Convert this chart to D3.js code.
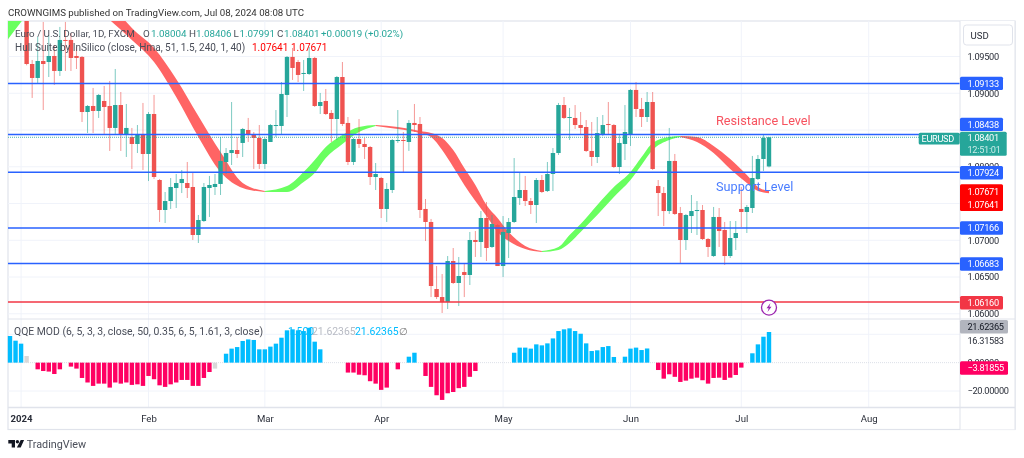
<!DOCTYPE html>
<html lang="en">
<head>
<meta charset="UTF-8">
<title>EURUSD 1D</title>
<script src="https://d3js.org/d3.v7.min.js"></script>
<style>
    html, body { margin: 0; padding: 0; background: #fff; overflow: hidden; }
    svg { display: block; font-family: Roboto, "Noto Sans", Arial, sans-serif; filter: blur(0.3px); }
    .axis path, .axis line { display: none; }
    .axis text { fill: #2a2e39; font-size: 9.6px; font-family: Roboto, "Noto Sans", Arial, sans-serif; }
    .price text, .tagtext { letter-spacing: -0.3px; font-size: 9.2px; }
</style>
</head>
<body>
<div id="chart"></div>
<script>
// candles start at bar 3, the first bars are above the visible range
const firstBar = 3;
const candleOpen = [
    1.10200,1.09398,1.09208,1.09439,1.09425,1.09507,1.09303,1.09725,1.09725,1.09507,
    1.09494,1.08745,1.08827,1.08759,1.08895,1.08827,1.08528,1.08840,1.08446,1.08405,
    1.08310,1.08446,1.08174,1.08718,1.07820,1.07412,1.07534,1.07711,1.07779,1.07779,
    1.07725,1.07072,1.07262,1.07711,1.07725,1.07766,1.08065,1.08187,1.08228,1.08324,
    1.08500,1.08446,1.08392,1.08038,1.08337,1.08555,1.08555,1.08977,1.09494,1.09425,
    1.09262,1.09262,1.09480,1.08827,1.08895,1.08732,1.08650,1.09221,1.08596,1.08065,
    1.08378,1.08310,1.08269,1.07861,1.07847,1.07426,1.07684,1.08351,1.08364,1.08337,
    1.08596,1.08582,1.07426,1.07249,1.06337,1.06228,1.06160,1.06718,1.06419,1.06568,
    1.06528,1.07004,1.06977,1.07303,1.06909,1.07208,1.06650,1.07099,1.07249,1.07575,
    1.07684,1.07534,1.07480,1.07820,1.07670,1.07902,1.08187,1.08840,1.08664,1.08664,
    1.08568,1.08541,1.08215,1.08133,1.08432,1.08582,1.08568,1.07997,1.08310,1.08446,
    1.09045,1.08786,1.08677,1.08881,1.07738,1.07643,1.07398,1.08079,1.07371,1.07004,
    1.07330,1.07398,1.07412,1.07017,1.06786,1.07317,1.07140,1.06786,1.07031,1.07426,
    1.07385,1.07439,1.07834,1.08106,1.08004
];
const candleHigh = [
    1.10350,1.09453,1.09766,1.09970,1.09793,1.09657,1.09902,1.09970,1.09820,1.09630,
    1.09507,1.08840,1.09072,1.08990,1.09099,1.09167,1.09330,1.09017,1.08854,1.08528,
    1.08568,1.08868,1.08745,1.08977,1.07834,1.07657,1.07847,1.07902,1.07956,1.08065,
    1.07915,1.07344,1.07779,1.07875,1.07902,1.08405,1.08255,1.08881,1.08405,1.08528,
    1.08664,1.08473,1.08568,1.08392,1.08582,1.08772,1.09153,1.09507,1.09616,1.09453,
    1.09453,1.09630,1.09494,1.09004,1.09058,1.08772,1.09235,1.09425,1.08677,1.08392,
    1.08650,1.08392,1.08283,1.08051,1.07861,1.07779,1.08378,1.08772,1.08473,1.08636,
    1.08854,1.08677,1.07562,1.07290,1.06650,1.06541,1.06786,1.06895,1.06773,1.06691,
    1.07113,1.07126,1.07398,1.07521,1.07344,1.07221,1.07330,1.07303,1.08119,1.07915,
    1.07875,1.07575,1.07847,1.07888,1.08065,1.08255,1.08868,1.08949,1.08800,1.08840,
    1.08745,1.08636,1.08609,1.08677,1.08704,1.08881,1.08582,1.08432,1.08840,1.09058,
    1.09153,1.08936,1.09017,1.09017,1.07820,1.07725,1.08528,1.08174,1.07453,1.07358,
    1.07616,1.07534,1.07480,1.07031,1.07453,1.07439,1.07249,1.07262,1.07262,1.07725,
    1.07480,1.08147,1.08160,1.08432,1.08406
];
const candleLow = [
    1.09380,1.08936,1.09140,1.08772,1.09221,1.09113,1.09235,1.09303,1.09303,1.09330,
    1.08609,1.08459,1.08459,1.08664,1.08446,1.08215,1.08432,1.08215,1.08133,1.07970,
    1.08187,1.07956,1.07806,1.07834,1.07249,1.07235,1.07426,1.07439,1.07643,1.07575,
    1.07004,1.06963,1.07249,1.07317,1.07616,1.07616,1.07902,1.08024,1.08119,1.08133,
    1.08337,1.07970,1.07970,1.07970,1.08337,1.08405,1.08432,1.08677,1.09181,1.09153,
    1.09031,1.09249,1.08813,1.08718,1.08704,1.08337,1.08364,1.08555,1.08024,1.08024,
    1.08255,1.08106,1.07752,1.07684,1.07303,1.07249,1.07643,1.08324,1.07915,1.08215,
    1.08473,1.07303,1.06990,1.06228,1.06201,1.06011,1.06065,1.06405,1.06106,1.06228,
    1.06392,1.06773,1.06773,1.06718,1.06895,1.06650,1.06500,1.06759,1.07235,1.07480,
    1.07466,1.07358,1.07235,1.07643,1.07657,1.07670,1.08160,1.08650,1.08364,1.08514,
    1.08432,1.08201,1.08011,1.08051,1.08419,1.08432,1.07983,1.07902,1.08092,1.08283,
    1.08677,1.08541,1.08609,1.07956,1.07330,1.07194,1.07358,1.07344,1.06691,1.06868,
    1.07099,1.07072,1.07004,1.06773,1.06773,1.06909,1.06664,1.06759,1.06868,1.07181,
    1.07099,1.07371,1.07820,1.07943,1.07991
];
const candleClose = [
    1.09398,1.09208,1.09439,1.09398,1.09507,1.09303,1.09725,1.09711,1.09480,1.09480,
    1.08745,1.08827,1.08759,1.08977,1.08813,1.08528,1.08840,1.08446,1.08528,1.08310,
    1.08446,1.08174,1.08718,1.07861,1.07412,1.07534,1.07725,1.07779,1.07834,1.07711,
    1.07072,1.07276,1.07725,1.07752,1.07766,1.08079,1.08187,1.08228,1.08174,1.08514,
    1.08432,1.08392,1.08038,1.08378,1.08568,1.08568,1.08990,1.09494,1.09344,1.09249,
    1.09276,1.09480,1.08827,1.08881,1.08718,1.08650,1.09221,1.08582,1.08065,1.08378,
    1.08310,1.08269,1.07861,1.07902,1.07426,1.07698,1.08364,1.08364,1.08351,1.08596,
    1.08568,1.07412,1.07249,1.06378,1.06228,1.06160,1.06718,1.06419,1.06514,1.06528,
    1.07004,1.06977,1.07303,1.06895,1.07221,1.06650,1.07113,1.07249,1.07589,1.07684,
    1.07534,1.07480,1.07820,1.07657,1.07902,1.08187,1.08840,1.08664,1.08677,1.08568,
    1.08528,1.08215,1.08133,1.08459,1.08568,1.08568,1.07997,1.08324,1.08473,1.09045,
    1.08786,1.08677,1.08881,1.07970,1.07643,1.07398,1.08079,1.07358,1.07004,1.07344,
    1.07398,1.07412,1.07017,1.06909,1.07317,1.07126,1.06786,1.07031,1.07099,1.07385,
    1.07453,1.07847,1.08106,1.08392,1.08401
];

// hull ribbon at these bars
const hullBars = [
    -1,2,4,
    18,22,26,30,34,38,42,46,
    50,53,55,57,60,63,66,
    70,74,76,78,80,82,84,86,88,90,93,96,
    99,101,103,106,109,112,114,116,119,121,
    124,127,130,133,135,137
];
const hullUpper = [
    1.10133,1.10405,1.10677,
    1.10242,1.09888,1.09616,1.09194,1.08691,1.08201,1.07779,1.07670,
    1.07738,1.07929,1.08092,1.08269,1.08432,1.08541,1.08568,
    1.08541,1.08487,1.08459,1.08392,1.08228,1.07983,1.07752,1.07480,1.07303,1.07113,1.06922,1.06854,
    1.06909,1.07072,1.07221,1.07480,1.07725,1.07929,1.08133,1.08324,1.08405,1.08419,
    1.08405,1.08283,1.08106,1.07888,1.07725,1.07671
];
const hullLower = [
    1.09670,1.09970,1.10160,
    1.09997,1.09725,1.09425,1.08949,1.08405,1.07929,1.07711,1.07657,
    1.07657,1.07793,1.07915,1.08119,1.08310,1.08473,1.08555,
    1.08514,1.08459,1.08405,1.08228,1.07997,1.07752,1.07534,1.07330,1.07113,1.06990,1.06881,1.06840,
    1.06868,1.06963,1.07113,1.07344,1.07589,1.07820,1.08024,1.08228,1.08364,1.08405,
    1.08337,1.08187,1.07970,1.07779,1.07670,1.07641
];
const hullLegs = [
    { from: -1, to: 4, up: true },
    { from: 18, to: 46, up: false },
    { from: 46, to: 66, up: true },
    { from: 66, to: 96, up: false },
    { from: 96, to: 121, up: true },
    { from: 121, to: 137, up: false }
];

// QQE histogram from bar 0, null where nothing is drawn
const qqeValues = [
    18.8,15.5,13.4,4.7,null,-4.7,-5.9,-6.3,-8,-4.7,
    null,-2.8,-4.2,-10.8,-14,-16.4,-14.8,-14.8,-17.6,-14,
    -14.8,-14,-15.7,-15.3,-16.4,-9.4,-11.7,-16,-17.1,-15.3,
    -14,-12.2,-12.2,-16.4,-16.4,-10.8,-6.6,-4.2,null,6.3,
    9.9,11,15.3,16.4,16,9.4,9.4,11.3,13.4,17.6,
    22.8,23.5,22.8,22.3,24.6,14.8,9.4,null,null,null,
    null,-7,-7,-8.5,-8.9,-13.1,-14.8,-19.2,-17.6,null,
    -4.7,null,4.2,7,null,-9.4,-17.1,-23,-26.3,-21.6,
    -20.7,-18,-17.1,-10,-5.9,null,null,null,null,null,
    null,7,10.6,10.6,9.9,12.9,12.2,13.6,17.1,22.3,
    23.5,24.2,22.3,20.4,13.6,8.2,8.7,11,11.7,4,
    null,4.2,9.9,10.6,8.9,10,null,-5.2,-11.3,-8.2,
    -10,-13.6,-12.7,-11.3,-10.6,-12.4,-14.8,-10.8,-10.6,-12.2,
    -10.6,-8.7,-3.5,null,6.6,12.9,18.3,21.62
];
const qqeGreyBars = [3, 37];

const priceTicks = [1.095, 1.09, 1.08, 1.07, 1.065, 1.06];
const priceGrid = [1.095, 1.09, 1.085, 1.08, 1.075, 1.07, 1.065, 1.06];
const qqeTicks = [0, -20];
const monthBars = [2, 25, 46, 67, 89, 112, 132, 155];
const monthLabels = ["2024", "Feb", "Mar", "Apr", "May", "Jun", "Jul", "Aug"];

const levelPrices = [1.09133, 1.08438, 1.07924, 1.07166, 1.06683];
const floorPrice = 1.06160;
const lastClose = 1.08401;

const width = 1024, height = 458;
const pane = { left: 8, right: 960, frameRight: 1015, top: 21, split: 319, axis: 407.5, bottom: 429.5 };

const barX = d3.scaleLinear().domain([0, 137]).range([10, 769]);
const priceY = d3.scaleLinear().domain([1.095, 1.06]).range([56.5, 313.8]);
const qqeY = d3.scaleLinear().domain([20, -20]).range([334.3, 391]);

const upColor = "#26a69a", downColor = "#ef5350";
const gridColor = "#f0f3fa", frameColor = "#e0e3eb";
const blue = "#2962ff";

const svg = d3.select("#chart").append("svg")
    .attr("width", width)
    .attr("height", height);

svg.append("clipPath").attr("id", "mainClip").append("rect")
    .attr("x", pane.left).attr("y", pane.top)
    .attr("width", pane.right - pane.left).attr("height", pane.split - pane.top);

// Frame and grid
svg.append("text").attr("x", 8).attr("y", 15.5)
    .attr("font-size", 9.7).attr("fill", "#333")
    .text("CROWNGIMS published on TradingView.com, Jul 08, 2024 08:08 UTC");

const frame = svg.append("g").attr("fill", "none").attr("stroke", frameColor);
frame.append("rect")
    .attr("x", pane.left).attr("y", pane.top)
    .attr("width", pane.frameRight - pane.left).attr("height", pane.bottom - pane.top)
    .attr("stroke-width", 1.2);

const grid = svg.append("g").attr("stroke", gridColor).attr("stroke-width", 1);
grid.selectAll(".hgrid").data(priceGrid).join("line")
    .attr("x1", pane.left).attr("x2", pane.right)
    .attr("y1", d => priceY(d)).attr("y2", d => priceY(d));
grid.selectAll(".qgrid").data([20, -20]).join("line")
    .attr("x1", pane.left).attr("x2", pane.right)
    .attr("y1", d => qqeY(d)).attr("y2", d => qqeY(d));
grid.selectAll(".vgrid").data(monthBars).join("line")
    .attr("x1", d => barX(d)).attr("x2", d => barX(d))
    .attr("y1", pane.top).attr("y2", pane.axis);

svg.append("line")
    .attr("x1", pane.left).attr("x2", pane.right)
    .attr("y1", qqeY(0)).attr("y2", qqeY(0))
    .attr("stroke", "#dde0e8").attr("stroke-dasharray", "1 1");

const main = svg.append("g").attr("clip-path", "url(#mainClip)");

// Hull ribbon
const ribbon = d3.area()
    .x(i => barX(hullBars[i]))
    .y0(i => priceY(hullLower[i]))
    .y1(i => priceY(hullUpper[i]))
    .curve(d3.curveMonotoneX);

main.selectAll(".hull").data(hullLegs).join("path")
    .attr("d", leg => ribbon(d3.range(hullBars.length)
        .filter(i => hullBars[i] >= leg.from && hullBars[i] <= leg.to)))
    .attr("fill", leg => leg.up ? "#69ff5f" : "#ff6464");

// Candles
const candles = d3.range(candleOpen.length).map(i => ({
    bar: firstBar + i,
    open: candleOpen[i],
    high: candleHigh[i],
    low: candleLow[i],
    close: candleClose[i]
}));
const candleColor = d => d.close >= d.open ? upColor : downColor;

main.selectAll(".wick").data(candles).join("line")
    .attr("x1", d => barX(d.bar)).attr("x2", d => barX(d.bar))
    .attr("y1", d => priceY(d.high)).attr("y2", d => priceY(d.low))
    .attr("stroke", candleColor)
    .attr("stroke-opacity", 0.6);

main.selectAll(".body").data(candles).join("rect")
    .attr("x", d => barX(d.bar) - 2.2)
    .attr("width", 4.4)
    .attr("y", d => priceY(Math.max(d.open, d.close)))
    .attr("height", d => Math.max(1, Math.abs(priceY(d.open) - priceY(d.close))))
    .attr("fill", candleColor);

// Levels
main.selectAll(".level").data(levelPrices).join("line")
    .attr("x1", pane.left).attr("x2", pane.right)
    .attr("y1", d => priceY(d)).attr("y2", d => priceY(d))
    .attr("stroke", blue).attr("stroke-width", 1.5);

main.append("line")
    .attr("x1", pane.left).attr("x2", pane.right)
    .attr("y1", priceY(floorPrice)).attr("y2", priceY(floorPrice))
    .attr("stroke", "#f23645").attr("stroke-width", 1.5);

main.append("line")
    .attr("x1", pane.left).attr("x2", pane.right)
    .attr("y1", priceY(lastClose)).attr("y2", priceY(lastClose))
    .attr("stroke", upColor).attr("stroke-opacity", 0.8).attr("stroke-dasharray", "1 1");

// Drawn labels
main.append("text").attr("x", 716).attr("y", 125)
    .attr("font-size", 12.7).attr("fill", "#f7525f").text("Resistance Level");
main.append("text").attr("x", 716).attr("y", 190.5)
    .attr("font-size", 12.7).attr("fill", "#4a7dff").text("Support Level");

// Earnings style marker
const marker = main.append("g").attr("transform", `translate(${barX(137)},${priceY(1.0618) + 7})`);
marker.append("circle").attr("r", 7.5).attr("fill", "#fff").attr("stroke", "#9c27b0").attr("stroke-width", 1.3);
marker.append("path").attr("d", "M1.5,-4.5 L-2.5,0.8 L-0.3,0.8 L-1.5,4.5 L2.5,-0.8 L0.3,-0.8 Z").attr("fill", "#9c27b0");

// QQE histogram
const qqeBars = qqeValues.map((v, bar) => ({ bar, v })).filter(d => d.v !== null);
svg.selectAll(".qqe").data(qqeBars).join("rect")
    .attr("x", d => barX(d.bar) - 2.2)
    .attr("width", 4.4)
    .attr("y", d => Math.min(qqeY(d.v), qqeY(0)))
    .attr("height", d => Math.abs(qqeY(d.v) - qqeY(0)))
    .attr("fill", d => qqeGreyBars.includes(d.bar) ? "#d8d8d8" : d.v > 0 ? "#00bcff" : "#ff0062");

// Legends
function legendRow(y, size, parts) {
    const row = svg.append("text").attr("y", y).attr("font-size", size);
    parts.forEach(p => {
        row.append("tspan").attr("x", p.x).attr("fill", p.color).text(p.text);
    });
}
const legendGrey = "#4a4e59", legendUp = "#26a69a";
legendRow(36.5, 9.8, [
    { x: 15, color: legendGrey, text: "Euro / U.S. Dollar, 1D, FXCM" },
    { x: 143, color: legendGrey, text: "O" },
    { x: 151, color: legendUp, text: "1.08004" },
    { x: 189, color: legendGrey, text: "H" },
    { x: 196, color: legendUp, text: "1.08406" },
    { x: 233.5, color: legendGrey, text: "L" },
    { x: 239.5, color: legendUp, text: "1.07991" },
    { x: 277, color: legendGrey, text: "C" },
    { x: 284, color: legendUp, text: "1.08401" },
    { x: 321, color: legendUp, text: "+0.00019 (+0.02%)" }
]);
legendRow(50.5, 10, [
    { x: 15, color: legendGrey, text: "Hull Suite by InSilico (close, Hma, 51, 1.5, 240, 1, 40)" },
    { x: 252, color: "#ff0000", text: "1.07641" },
    { x: 291, color: "#ff0000", text: "1.07671" }
]);
legendRow(335, 10.4, [
    { x: 14, color: legendGrey, text: "QQE MOD (6, 5, 3, 3, close, 50, 0.35, 6, 5, 1.61, 3, close)" },
    { x: 288, color: "#00bcff", text: "1.500" },
    { x: 312, color: "#b8bbc4", text: "21.62365" },
    { x: 355, color: "#00bcff", text: "21.62365" },
    { x: 399, color: "#777", text: "\u2205" }
]);

// Axis pane
svg.append("rect")
    .attr("x", pane.right).attr("y", pane.top)
    .attr("width", pane.frameRight - pane.right).attr("height", pane.bottom - pane.top)
    .attr("fill", "#fff");
const rules = svg.append("g").attr("stroke", frameColor);
rules.append("line").attr("x1", pane.right).attr("x2", pane.right).attr("y1", pane.top).attr("y2", pane.bottom);
rules.append("line").attr("x1", pane.frameRight).attr("x2", pane.frameRight).attr("y1", pane.top).attr("y2", pane.bottom);
rules.append("line").attr("x1", pane.left).attr("x2", pane.frameRight).attr("y1", pane.split).attr("y2", pane.split);
rules.append("line").attr("x1", pane.left).attr("x2", pane.frameRight).attr("y1", pane.axis).attr("y2", pane.axis).attr("stroke-width", 1.5);

svg.append("g").attr("class", "axis price")
    .attr("transform", `translate(${pane.right + 1.5},0)`)
    .call(d3.axisRight(priceY).tickValues(priceTicks).tickFormat(d3.format(".5f")).tickSize(3));

svg.append("g").attr("class", "axis price")
    .attr("transform", `translate(${pane.right + 1.5},0)`)
    .call(d3.axisRight(qqeY).tickValues(qqeTicks).tickFormat(d => d3.format(".5f")(d).replace("-", "\u2212")).tickSize(3));

const timeAxis = svg.append("g").attr("class", "axis")
    .attr("transform", `translate(0,${pane.axis + 1})`)
    .call(d3.axisBottom(barX).tickValues(monthBars).tickFormat((d, i) => monthLabels[i]).tickSize(4));
timeAxis.selectAll(".tick text")
    .style("font-weight", (d, i) => i === 0 ? 700 : 400);

// Currency button
svg.append("rect").attr("x", 963.5).attr("y", 25).attr("width", 49).attr("height", 20).attr("rx", 3)
    .attr("fill", "#fff").attr("stroke", frameColor);
svg.append("text").attr("x", 970.5).attr("y", 38.5).attr("font-size", 9.6).attr("fill", "#2a2e39").text("USD");

// Price tags
function tag(x, y, w, h, color, lines) {
    svg.append("rect").attr("x", x).attr("y", y).attr("width", w).attr("height", h).attr("rx", 1.5).attr("fill", color);
    lines.forEach(l => {
        svg.append("text").attr("class", "tagtext").attr("x", l.x || 967.5).attr("y", l.y)
            .attr("fill", l.color || "#fff").text(l.text);
    });
}
const tagFormat = d3.format(".5f");
const levelTagY = [76.7, 117.7, 166, 221.3, 257.3];
levelPrices.forEach((p, i) => {
    tag(pane.right, levelTagY[i], 43, 13.4, blue, [{ y: levelTagY[i] + 10, text: tagFormat(p) }]);
});
tag(pane.right, 296, 43, 13.4, "#f23645", [{ y: 306, text: tagFormat(floorPrice) }]);
tag(pane.right, 184.3, 43, 26.7, "#ff0000", [
    { y: 195, text: tagFormat(hullUpper[hullUpper.length - 1]) },
    { y: 208.4, text: tagFormat(hullLower[hullLower.length - 1]) }
]);
tag(918.7, 132.7, 41, 11.7, upColor, [{ x: 921.5, y: 141.7, text: "EURUSD" }]);
tag(pane.right, 131.7, 46.7, 24, upColor, [
    { y: 141.3, text: tagFormat(lastClose) },
    { y: 152.8, text: "12:51:01", color: "#c9ece8" }
]);
tag(pane.right, 320, 48, 13.4, "#b2b5be", [{ y: 330, text: "21.62365", color: "#131722" }]);
svg.append("text").attr("class", "tagtext").attr("x", 967.5).attr("y", 344).attr("fill", "#2a2e39").text("16.31583");
tag(pane.right, 361.3, 48, 13.4, "#ff0062", [{ y: 371.3, text: "\u22123.81855" }]);

// Brand
const logo = svg.append("g").attr("transform", "translate(8.3,440)").attr("fill", "#131722");
logo.append("path").attr("d", "M0,0 H6.7 V7.5 H3.4 V3.4 H0 Z");
logo.append("circle").attr("cx", 9.1).attr("cy", 1.7).attr("r", 1.7);
logo.append("path").attr("d", "M12.4,0 H15.8 L12.4,7.5 H8.6 Z");
svg.append("text").attr("x", 26.7).attr("y", 448).attr("font-size", 10.8).attr("fill", "#4a4e59").text("TradingView");
</script>
</body>
</html>
